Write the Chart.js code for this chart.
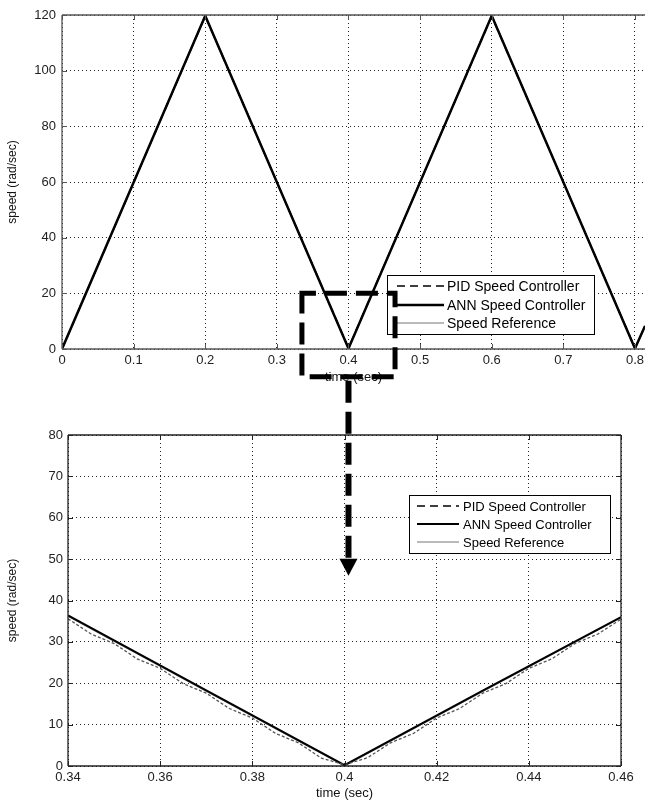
<!DOCTYPE html>
<html><head><meta charset="utf-8">
<script src="https://cdn.jsdelivr.net/npm/chart.js@4.4.0/dist/chart.umd.min.js"></script>
<style>
html,body{margin:0;padding:0;background:#fff;overflow:hidden;}
#wrap{position:relative;width:645px;height:804px;}
canvas{position:absolute;left:0;}
</style></head><body>
<div id="wrap">
<canvas id="topc" width="645" height="400" style="top:0"></canvas>
<canvas id="botc" width="645" height="404" style="top:400px"></canvas>
<canvas id="overlay" width="645" height="804" style="top:0;pointer-events:none"></canvas>
</div>
<script>
const seriesNames = ['PID Speed Controller', 'ANN Speed Controller', 'Speed Reference'];

// full run (top plot)
const topTime = [0, 0.2, 0.4, 0.6, 0.8, 0.814];
const topRef  = [0, 120, 0, 120, 0, 8.4];
const topANN  = [0, 119.7, 0.2, 119.7, 0.2, 8.3];
const topPID  = [0, 119.5, 0.4, 119.5, 0.4, 8.1];
const topXTicks = [0, 0.1, 0.2, 0.3, 0.4, 0.5, 0.6, 0.7, 0.8];
const topYTicks = [0, 20, 40, 60, 80, 100, 120];

// zoomed window (bottom plot)
const zoomTime = [0.34, 0.37, 0.4, 0.43, 0.46];
const zoomRef  = [36.2, 18.1, 0, 18.0, 35.9];
const zoomANN  = [36.4, 18.3, 0.2, 18.2, 36.0];
const zoomPIDTime = [0.340, 0.345, 0.350, 0.355, 0.360, 0.365, 0.370, 0.375, 0.380, 0.385, 0.390, 0.395, 0.400,
                     0.405, 0.410, 0.415, 0.420, 0.425, 0.430, 0.435, 0.440, 0.445, 0.450, 0.455, 0.460];
const zoomPID     = [35.6, 31.9, 29.6, 25.9, 23.6, 19.9, 17.6, 13.9, 11.6, 7.9, 5.6, 1.9, 0.3,
                     2.0, 5.6, 7.9, 11.6, 13.9, 17.6, 19.9, 23.6, 25.9, 29.6, 31.9, 35.5];
const zoomXTicks = [0.34, 0.36, 0.38, 0.40, 0.42, 0.44, 0.46];
const zoomYTicks = [0, 10, 20, 30, 40, 50, 60, 70, 80];

// zoom marker: time range and speed range boxed in the top plot
const zoomBoxTime = [0.335, 0.465];
const zoomBoxSpeed = [-10, 20];
const arrowTipSpeed = 46; // where the arrow ends, in bottom-plot speed units

const FONT = '"Liberation Sans", Arial, sans-serif';

const pts = (xs, ys) => xs.map((x, i) => ({x, y: ys[i]}));

const framePlugin = {
  id: 'frame',
  afterDraw(chart, args, o) {
    const {ctx, chartArea: a} = chart;
    ctx.save();
    ctx.strokeStyle = o.color; ctx.lineWidth = o.width; ctx.setLineDash([]);
    ctx.beginPath();
    ctx.moveTo(a.left, a.top); ctx.lineTo(a.left, a.bottom);
    ctx.moveTo(a.left, a.bottom); ctx.lineTo(a.right, a.bottom);
    ctx.moveTo(a.left, a.top); ctx.lineTo(a.right, a.top);
    if (o.right) { ctx.moveTo(a.right, a.top); ctx.lineTo(a.right, a.bottom); }
    ctx.stroke();
    // inward tick marks
    ctx.beginPath();
    chart.scales.x.ticks.forEach(t => {
      const p = Math.round(chart.scales.x.getPixelForValue(t.value)) + 0.5;
      ctx.moveTo(p, a.bottom); ctx.lineTo(p, a.bottom - 5);
      ctx.moveTo(p, a.top); ctx.lineTo(p, a.top + 5);
    });
    chart.scales.y.ticks.forEach(t => {
      const p = Math.round(chart.scales.y.getPixelForValue(t.value)) + 0.5;
      ctx.moveTo(a.left, p); ctx.lineTo(a.left + 5, p);
      if (o.right) { ctx.moveTo(a.right, p); ctx.lineTo(a.right - 5, p); }
    });
    ctx.lineWidth = 1; ctx.stroke();
    ctx.restore();
  }
};

const boxLegendPlugin = {
  id: 'boxLegend',
  afterDraw(chart, args, o) {
    const ctx = chart.ctx;
    ctx.save();
    ctx.fillStyle = '#fff';
    ctx.fillRect(o.x, o.y, o.w, o.h);
    ctx.strokeStyle = '#000'; ctx.lineWidth = 1; ctx.setLineDash([]);
    ctx.strokeRect(o.x + 0.5, o.y + 0.5, o.w, o.h);
    chart.data.datasets.forEach((ds, i) => {
      const y = o.rows[i];
      ctx.strokeStyle = i === 0 ? '#000' : ds.borderColor;
      ctx.lineWidth = i === 0 ? 1.5 : ds.borderWidth;
      ctx.setLineDash(i === 0 ? [8, 5] : (ds.borderDash || []));
      ctx.beginPath(); ctx.moveTo(o.lx0, y); ctx.lineTo(o.lx1, y); ctx.stroke();
      ctx.setLineDash([]);
      ctx.fillStyle = '#000'; ctx.font = o.size + 'px ' + FONT;
      ctx.textBaseline = 'middle'; ctx.textAlign = 'left';
      ctx.fillText(ds.label, o.tx, y + 1);
    });
    ctx.restore();
  }
};

function datasets(tPid, pid, t, ann, ref, annW, pidStyle) {
  return [
    Object.assign({label: seriesNames[0], data: pts(tPid, pid), pointRadius: 0, tension: 0}, pidStyle),
    {label: seriesNames[1], data: pts(t, ann), borderColor: '#000', borderWidth: annW, pointRadius: 0, tension: 0},
    {label: seriesNames[2], data: pts(t, ref), borderColor: '#777', borderWidth: 1.2, pointRadius: 0, tension: 0}
  ];
}

function opts(c) {
  return {
    responsive: false, animation: false, events: [],
    layout: {padding: {top: c.padTop, right: c.padRight, left: 0, bottom: 0}},
    plugins: {
      legend: {display: false}, tooltip: {enabled: false},
      frame: {color: c.frameColor, width: 1.3, right: c.rightBorder},
      boxLegend: c.legend
    },
    scales: {
      x: {
        type: 'linear', min: c.xMin, max: c.xMax,
        afterBuildTicks: s => { s.ticks = c.xTicks.map(v => ({value: v})); },
        afterFit: s => { s.height = c.xH; s.paddingLeft = 0; s.paddingRight = 0; },
        grid: {color: '#222', lineWidth: 1, drawTicks: false},
        border: {display: false, dash: [1, 3]},
        ticks: {font: {family: FONT, size: 13}, color: '#222', padding: c.xPad, maxRotation: 0, autoSkip: false,
                callback: v => String(v)},
        title: {display: true, text: 'time (sec)', font: {family: FONT, size: 13}, color: '#111', padding: {top: 0, bottom: c.xTitlePad}}
      },
      y: {
        type: 'linear', min: c.yMin, max: c.yMax,
        afterBuildTicks: s => { s.ticks = c.yTicks.map(v => ({value: v})); },
        afterFit: s => { s.width = c.yW; s.paddingTop = 0; s.paddingBottom = 0; },
        grid: {color: '#222', lineWidth: 1, drawTicks: false},
        border: {display: false, dash: [1, 3]},
        ticks: {font: {family: FONT, size: 13}, color: '#222', padding: c.yPad, autoSkip: false},
        title: {display: true, text: 'speed (rad/sec)', font: {family: FONT, size: 12}, color: '#111', padding: {top: 5, bottom: 0}}
      }
    }
  };
}

Chart.register(framePlugin, boxLegendPlugin);

const topChart = new Chart(document.getElementById('topc'), {
  type: 'line',
  data: {datasets: datasets(topTime, topPID, topTime, topANN, topRef, 2.5,
    {borderColor: '#000', borderWidth: 1.5, borderDash: [8, 5]})},
  options: opts({
    padTop: 15, padRight: 0, xH: 51, yW: 62, xPad: 4, yPad: 6, xTitlePad: 15,
    xMin: 0, xMax: 0.814, yMin: 0, yMax: 120, xTicks: topXTicks, yTicks: topYTicks,
    frameColor: '#555', rightBorder: false,
    legend: {x: 387, y: 275, w: 207, h: 59, rows: [286, 305, 323], lx0: 397, lx1: 444, tx: 447, size: 14}
  })
});

const botChart = new Chart(document.getElementById('botc'), {
  type: 'line',
  data: {datasets: datasets(zoomPIDTime, zoomPID, zoomTime, zoomANN, zoomRef, 2,
    {borderColor: '#555', borderWidth: 1.3, borderDash: [3, 2]})},
  options: opts({
    padTop: 35, padRight: 24, xH: 38, yW: 68, xPad: 4, yPad: 5, xTitlePad: 3,
    xMin: 0.34, xMax: 0.46, yMin: 0, yMax: 80, xTicks: zoomXTicks, yTicks: zoomYTicks,
    frameColor: '#222', rightBorder: true,
    legend: {x: 409, y: 95, w: 201, h: 58, rows: [106, 124, 142], lx0: 417, lx1: 459, tx: 463, size: 13}
  })
});

// zoom marker and arrow linking the two plots
(function drawOverlay() {
  const ctx = document.getElementById('overlay').getContext('2d');
  const tx = topChart.scales.x, ty = topChart.scales.y;
  const x0 = tx.getPixelForValue(zoomBoxTime[0]), x1 = tx.getPixelForValue(zoomBoxTime[1]);
  const y0 = ty.getPixelForValue(zoomBoxSpeed[1]), y1 = ty.getPixelForValue(zoomBoxSpeed[0]);
  ctx.strokeStyle = '#000'; ctx.fillStyle = '#000';
  ctx.lineWidth = 5; ctx.setLineDash([22, 9]); ctx.lineDashOffset = 8;
  ctx.strokeRect(x0, y0, x1 - x0, y1 - y0);
  const cx = (x0 + x1) / 2;
  const tipY = 400 + botChart.scales.y.getPixelForValue(arrowTipSpeed);
  const headH = 17;
  ctx.lineWidth = 6; ctx.setLineDash([22, 9]); ctx.lineDashOffset = 0;
  ctx.beginPath(); ctx.moveTo(cx, y1 + 4); ctx.lineTo(cx, tipY - headH); ctx.stroke();
  ctx.setLineDash([]);
  ctx.beginPath(); ctx.moveTo(cx - 9, tipY - headH); ctx.lineTo(cx + 9, tipY - headH); ctx.lineTo(cx, tipY); ctx.closePath(); ctx.fill();
})();
</script>
</body></html>
